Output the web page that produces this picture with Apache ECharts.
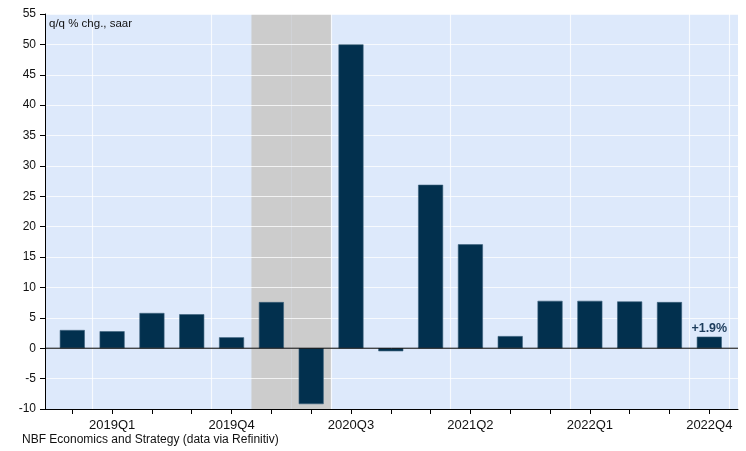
<!DOCTYPE html>
<html>
<head>
<meta charset="utf-8">
<script src="https://cdn.jsdelivr.net/npm/echarts@6/dist/echarts.min.js"></script>
<style>
  html, body { margin: 0; padding: 0; background: #fff; }
  #chart { width: 746px; height: 451px; }
</style>
</head>
<body>
<div id="chart"></div>
<script>
// Quarterly real GDP growth, q/q % change at a seasonally adjusted annual rate
const quarters = ['2018Q4', '2019Q1', '2019Q2', '2019Q3', '2019Q4', '2020Q1', '2020Q2', '2020Q3', '2020Q4',
                  '2021Q1', '2021Q2', '2021Q3', '2021Q4', '2022Q1', '2022Q2', '2022Q3', '2022Q4'];
const growth = [3.0, 2.8, 5.8, 5.6, 1.8, 7.6, -9.2, 50.0, -0.5, 26.9, 17.1, 2.0, 7.8, 7.8, 7.7, 7.6, 1.9];
// Recession shading (first and last quarter)
const recession = ['2020Q1', '2020Q2'];
const yTicks = { min: -10, max: 55, step: 5 };
const lastLabel = '+1.9%';

const FONT = '"Liberation Sans", Arial, sans-serif';
const chart = echarts.init(document.getElementById('chart'));

const inRecession = (q) => q >= recession[0] && q <= recession[1];
const shadeUp = quarters.map(q => inRecession(q) ? yTicks.max : null);
const shadeDown = quarters.map(q => inRecession(q) ? yTicks.min : null);

chart.setOption({
  animation: false,
  backgroundColor: '#ffffff',
  textStyle: { fontFamily: FONT },
  grid: [
    { left: 45, right: 8, top: 14, bottom: 42, show: true, backgroundColor: '#dde9fb', borderWidth: 0 },
    { left: 52.4, right: 16.8, top: 14, bottom: 42 }
  ],
  xAxis: [
    {
      gridIndex: 0, type: 'value', min: 0, max: 1, z: 6,
      axisLine: { show: true, onZero: false, lineStyle: { color: '#000', width: 1 } },
      axisTick: { show: false }, axisLabel: { show: false }, splitLine: { show: false }
    },
    {
      gridIndex: 1, type: 'category', data: quarters, z: 5,
      axisLine: { show: false, onZero: false },
      axisTick: { show: true, alignWithLabel: true, interval: 0, length: 5, lineStyle: { color: '#000' } },
      axisLabel: {
        interval: (i) => i % 3 === 1,
        color: '#111', fontSize: 13, margin: 10, fontFamily: FONT
      },
      splitLine: {
        show: true, interval: (i) => i % 3 === 1,
        lineStyle: { color: 'rgba(255,255,255,0.75)', width: 1.2 }
      }
    },
    {
      // separate band axis for the recession shading
      gridIndex: 1, type: 'category', data: quarters, show: false
    }
  ],
  yAxis: [
    {
      gridIndex: 0, type: 'value', min: yTicks.min, max: yTicks.max, interval: yTicks.step, z: 5,
      axisLine: { show: true, onZero: false, lineStyle: { color: '#000', width: 1 } },
      axisTick: { show: true, length: 5, lineStyle: { color: '#000' } },
      axisLabel: { color: '#111', fontSize: 12, margin: 9, fontFamily: FONT },
      splitLine: { show: true, lineStyle: { color: 'rgba(255,255,255,0.75)', width: 1.2 } }
    },
    {
      gridIndex: 1, type: 'value', min: yTicks.min, max: yTicks.max, interval: yTicks.step, show: false
    }
  ],
  series: [
    {
      name: 'recession-up', type: 'bar', xAxisIndex: 2, yAxisIndex: 1, z: 1,
      data: shadeUp, barWidth: '100%', barGap: '-100%', silent: true,
      itemStyle: { color: '#cccccc' }
    },
    {
      name: 'recession-down', type: 'bar', xAxisIndex: 2, yAxisIndex: 1, z: 1,
      data: shadeDown, barWidth: '100%', barGap: '-100%', silent: true,
      itemStyle: { color: '#cccccc' }
    },
    {
      name: 'GDP growth', type: 'bar', xAxisIndex: 1, yAxisIndex: 1, z: 10,
      data: growth.map((v, i) => i === growth.length - 1 ? {
        value: v,
        label: {
          show: true, position: 'top', formatter: lastLabel, distance: 2,
          color: '#1d3c5c', fontWeight: 'bold', fontSize: 12.5, fontFamily: FONT
        }
      } : v),
      barWidth: 25,
      itemStyle: { color: '#02304e', borderColor: '#3a5f7a', borderWidth: 0.6 }
    },
    {
      // zero line across the full plot width
      name: 'zero', type: 'line', xAxisIndex: 0, yAxisIndex: 0, z: 11, silent: true,
      symbol: 'none', data: [[0, 0], [1, 0]],
      lineStyle: { color: '#000', width: 1 }
    }
  ],
  graphic: [
    { type: 'text', left: 49, top: 18, z: 20,
      style: { text: 'q/q % chg., saar', fill: '#111', font: '11.5px ' + FONT } },
    { type: 'text', left: 22, top: 434, z: 20,
      style: { text: 'NBF Economics and Strategy (data via Refinitiv)', fill: '#111', font: '12px ' + FONT } }
  ]
});
</script>
</body>
</html>
